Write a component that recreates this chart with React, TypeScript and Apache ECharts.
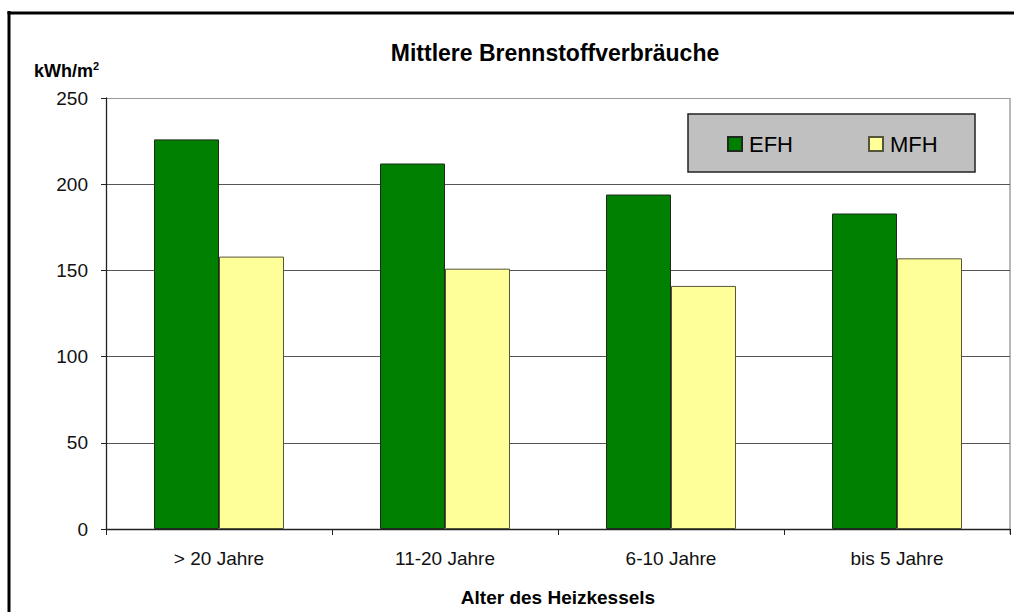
import React, { useEffect, useRef } from "react";
import * as echarts from "echarts";

const categories = ["> 20 Jahre", "11-20 Jahre", "6-10 Jahre", "bis 5 Jahre"];
const efhValues = [226, 212, 194, 183];
const mfhValues = [158, 151, 141, 157];
const seriesNames = ["EFH", "MFH"];
const yTicks = { min: 0, max: 250, interval: 50 };

const FONT = "'Liberation Sans', Arial, sans-serif";

export default function App() {
  const ref = useRef<HTMLDivElement>(null);
  useEffect(() => {
    if (!ref.current) return;
    const chart = echarts.init(ref.current, null, { renderer: "svg" });
    chart.setOption({
      animation: false,
      backgroundColor: "#ffffff",
      textStyle: { fontFamily: FONT },
      title: {
        text: "Mittlere Brennstoffverbräuche",
        left: 555,
        textAlign: "center",
        top: 41,
        padding: 0,
        textStyle: { fontFamily: FONT, fontSize: 23, fontWeight: "bold", color: "#000" },
      },
      grid: { left: 106, top: 98, width: 904, height: 436, containLabel: false },
      legend: {
        data: seriesNames,
        left: 727,
        top: 133,
        padding: 0,
        itemWidth: 14,
        itemHeight: 14,
        itemGap: 75,
        icon: "rect",
        textStyle: { fontFamily: FONT, fontSize: 22, color: "#000", padding: [0, 0, 0, 2] },
      },
      xAxis: {
        type: "category",
        data: categories,
        name: "Alter des Heizkessels",
        nameLocation: "middle",
        nameGap: 59,
        nameTextStyle: { fontFamily: FONT, fontSize: 19, fontWeight: "bold", color: "#000" },
        axisLine: { lineStyle: { color: "#222", width: 1.3 } },
        axisTick: { show: true, length: 6, lineStyle: { color: "#222" } },
        axisLabel: { fontFamily: FONT, fontSize: 19, color: "#111", margin: 20 },
      },
      yAxis: {
        type: "value",
        min: yTicks.min,
        max: yTicks.max,
        interval: yTicks.interval,
        axisLine: { show: true, lineStyle: { color: "#222", width: 1.3 } },
        axisTick: { show: true, length: 5, lineStyle: { color: "#222" } },
        axisLabel: { fontFamily: FONT, fontSize: 19, color: "#111", margin: 18 },
        splitLine: {
          show: true,
          lineStyle: { color: ["#555", "#555", "#555", "#555", "#555", "#9a9a9a"], width: 1.2 },
        },
      },
      series: [
        {
          name: seriesNames[0],
          type: "bar",
          data: efhValues,
          barWidth: 65,
          barGap: "0%",
          itemStyle: { color: "#008000", borderColor: "#1e2a1e", borderWidth: 1 },
        },
        {
          name: seriesNames[1],
          type: "bar",
          data: mfhValues,
          barWidth: 65,
          itemStyle: { color: "#ffff99", borderColor: "#55553a", borderWidth: 1 },
        },
      ],
      graphic: [
        {
          type: "rect",
          z: -1,
          shape: { x: 688, y: 114, width: 287, height: 58 },
          style: { fill: "#c0c0c0", stroke: "#222", lineWidth: 1.5 },
        },
        {
          type: "line",
          shape: { x1: 1010, y1: 98, x2: 1010, y2: 534 },
          style: { stroke: "#a0a0a0", lineWidth: 1.5 },
        },
        {
          type: "text",
          x: 34,
          y: 71,
          style: {
            text: "kWh/m{s|2}",
            fontFamily: FONT,
            fontSize: 18,
            fontWeight: "bold",
            fill: "#000",
            verticalAlign: "middle",
            rich: {
              s: { fontFamily: FONT, fontSize: 11, fontWeight: "bold", fill: "#000", verticalAlign: "top", padding: [0, 0, 10, 0] },
            },
          },
        },
        {
          type: "line",
          shape: { x1: 9, y1: 11, x2: 9, y2: 612 },
          style: { stroke: "#000", lineWidth: 3 },
        },
        {
          type: "line",
          shape: { x1: 7.5, y1: 13, x2: 1014, y2: 13 },
          style: { stroke: "#000", lineWidth: 3 },
        },
      ],
    });
    return () => chart.dispose();
  }, []);
  return (
    <div
      ref={ref}
      style={{ position: "absolute", left: 0, top: 0, width: 1014, height: 612 }}
    />
  );
}
